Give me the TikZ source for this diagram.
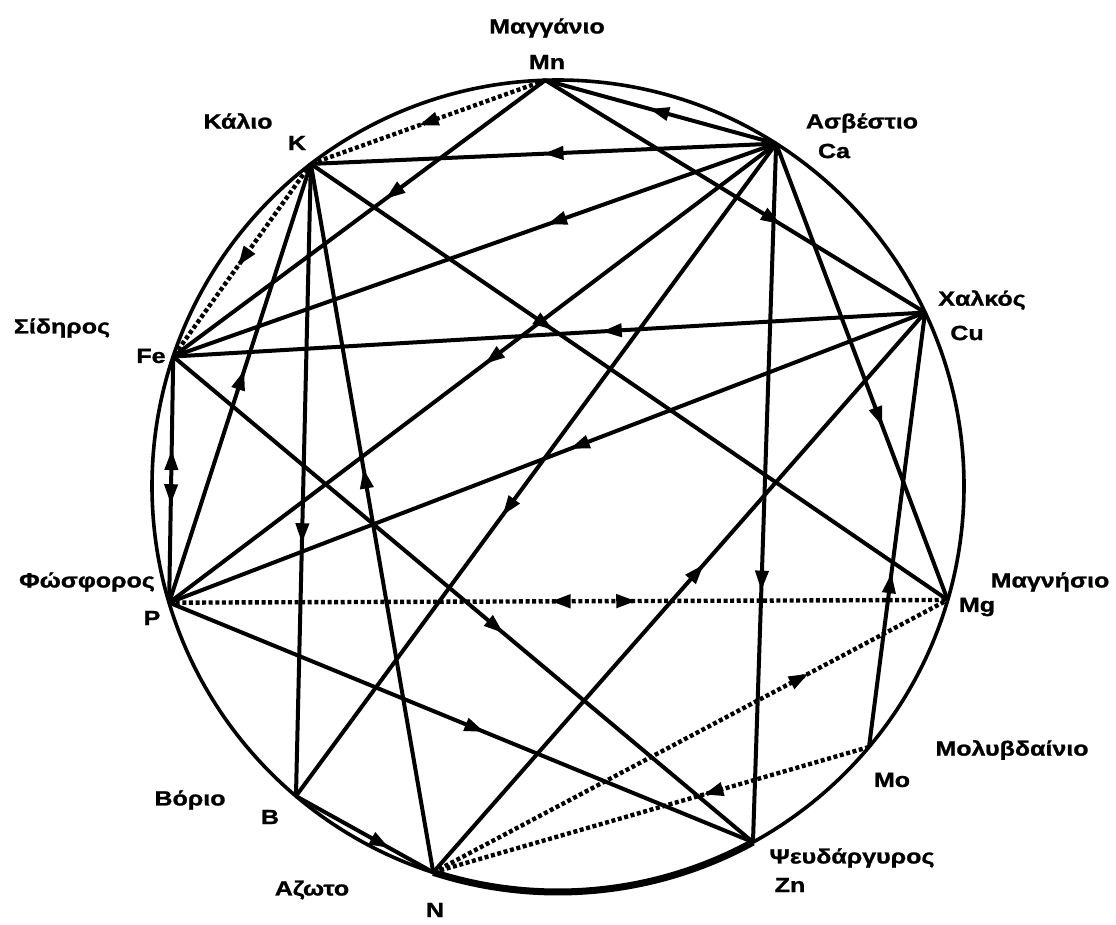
\documentclass[tikz,border=0pt]{standalone}
\usepackage{fontspec}
\setmainfont{Liberation Sans}[FakeStretch=1.22,BoldFeatures={FakeBold=1.2}]
\usetikzlibrary{arrows.meta,decorations.markings}
\begin{document}
\begin{tikzpicture}[x=1pt,y=-1pt,
  ln/.style={line width=4pt},
  dt/.style={line width=4.4pt,dash pattern=on 4pt off 2.6pt},
  arat/.style={postaction={decorate,decoration={markings,mark=at position #1 with {\arrow{Triangle[length=20pt,width=13pt]}}}}},
  arrev/.style={postaction={decorate,decoration={markings,mark=at position #1 with {\arrowreversed{Triangle[length=20pt,width=13pt]}}}}},
  lab/.style={font=\bfseries\fontsize{20.5}{22}\selectfont,inner sep=0pt}]
\useasboundingbox (0,0) rectangle (1116,924);
\fill[white] (0,0) rectangle (1116,924);
\coordinate (O) at (558,486);
\draw[line width=3.6pt] (O) circle[radius=406];
\coordinate (Mn) at ([shift={(558,486)}]268.2:406);
\coordinate (K)  at ([shift={(558,486)}]232.5:406);
\coordinate (Ca) at ([shift={(558,486)}]302.5:406);
\coordinate (Cu) at ([shift={(558,486)}]334.7:406);
\coordinate (Fe) at ([shift={(558,486)}]198.6:406);
\coordinate (P)  at ([shift={(558,486)}]163.3:406);
\coordinate (Mg) at ([shift={(558,486)}]16.3:406);
\coordinate (Mo) at ([shift={(558,486)}]40.0:406);
\coordinate (Zn) at ([shift={(558,486)}]61.3:406);
\coordinate (N)  at ([shift={(558,486)}]107.9:406);
\coordinate (B)  at ([shift={(558,486)}]130.2:406);
% thick bottom arc
\draw[line width=7pt] (N) arc[start angle=107.9,end angle=61.3,radius=406];
% connectors
\draw[dt,arat=0.53] (K) -- (Fe);
\draw[dt,arat=0.54] (Mn) -- (K);
\draw[ln,arat=0.43] (Mn) -- (Fe);
\draw[ln,arat=0.55] (Ca) -- (Mn);
\draw[ln,arat=0.62] (Mn) -- (Cu);
\draw[ln,arat=0.50] (Ca) -- (K);
\draw[ln,arat=0.38] (K) -- (Mg);
\draw[ln,arat=0.60] (K) -- (B);
\draw[ln,arat=0.57] (N) -- (K);
\draw[ln,arat=0.53] (P) -- (K);
\draw[ln,arat=0.38] (Ca) -- (Fe);
\draw[ln,arat=0.48] (Ca) -- (P);
\draw[ln,arat=0.57] (Ca) -- (B);
\draw[ln,arat=0.64] (Ca) -- (Zn);
\draw[ln,arat=0.62] (Ca) -- (Mg);
\draw[ln,arat=0.43] (Cu) -- (Fe);
\draw[ln,arat=0.47] (Cu) -- (P);
\draw[ln,arat=0.55] (N) -- (Cu);
\draw[ln,arat=0.40] (Mo) -- (Cu);
\draw[ln,arrev=0.38,arat=0.60] (Fe) -- (P);
\draw[ln,arat=0.57] (Fe) -- (Zn);
\draw[ln,arat=0.54] (P) -- (Zn);
\draw[dt,arrev=0.49,arat=0.60] (P) -- (Mg);
\draw[dt,arat=0.73] (N) -- (Mg);
\draw[dt,arat=0.38] (Mo) -- (N);
\draw[ln,arat=0.68] (B) -- (N);
% labels
\node[lab] (tMn) at (547,28) {Μαγγάνιο};
\node[lab] (sMn) at (547,62) {Mn};
\node[lab] (tK) at (238,121) {Κάλιο};
\node[lab] (sK) at (297,143) {K};
\node[lab] (tCa) at (862,123) {Ασβέστιο};
\node[lab] (sCa) at (834,151) {Ca};
\node[lab] (tCu) at (982,300) {Χαλκός};
\node[lab] (sCu) at (967,333) {Cu};
\node[lab] (tFe) at (62,328) {Σίδηρος};
\node[lab] (sFe) at (151,356) {Fe};
\node[lab] (tP) at (87,582) {Φώσφορος};
\node[lab] (sP) at (152,618) {P};
\node[lab] (tMg) at (1050,582) {Μαγνήσιο};
\node[lab] (sMg) at (977,607) {Mg};
\node[lab] (tMo) at (1012,750) {Μολυβδαίνιο};
\node[lab] (sMo) at (892,780) {Mo};
\node[lab] (tZn) at (852,858) {Ψευδάργυρος};
\node[lab] (sZn) at (790,885) {Zn};
\node[lab] (tB) at (190,800) {Βόριο};
\node[lab] (sB) at (270,817) {B};
\node[lab] (tN) at (312,890) {Αζωτο};
\node[lab] (sN) at (435,910) {N};
\end{tikzpicture}
\end{document}
